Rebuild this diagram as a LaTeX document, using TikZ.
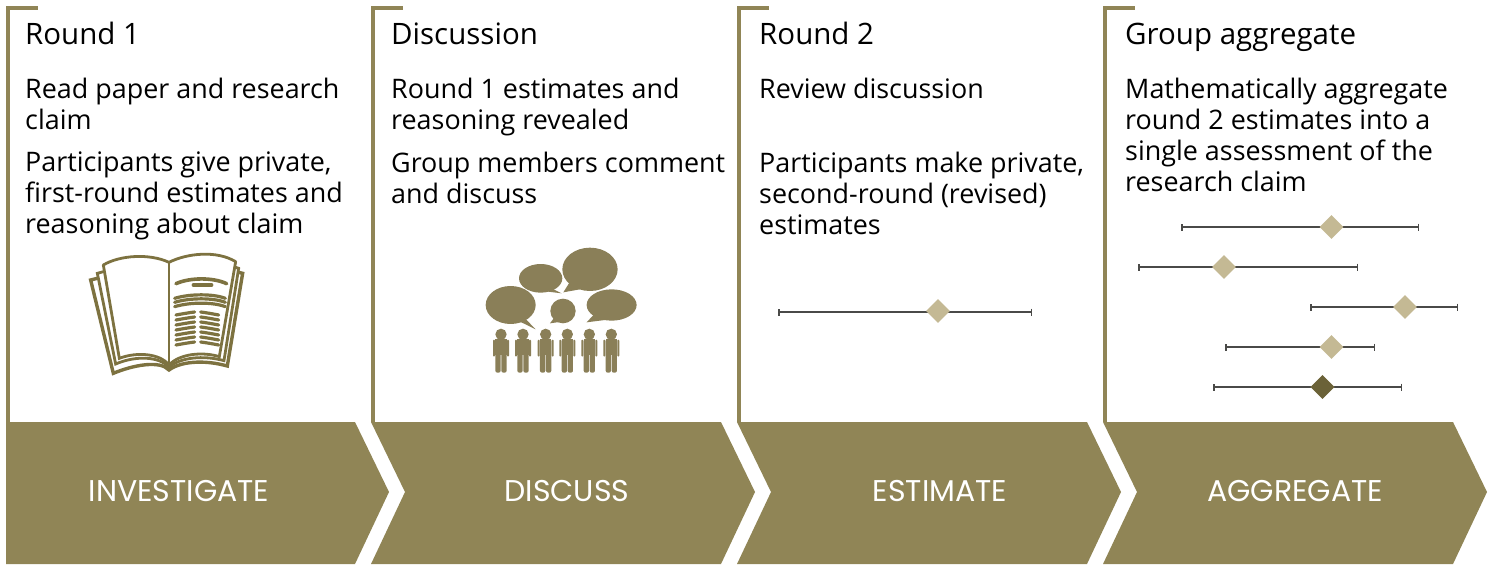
\documentclass[tikz,border=0pt]{standalone}
\usepackage{fontspec}
\setmainfont{Open Sans}
\newfontfamily\bandfont{Poppins}
\usepackage{tikz}
\usetikzlibrary{positioning,shapes.geometric,arrows.meta}
\definecolor{olive}{HTML}{908556}
\definecolor{sand}{HTML}{C4B994}
\definecolor{umber}{HTML}{6B6238}
\definecolor{bar}{HTML}{4A4A48}
\definecolor{crowd}{HTML}{8A7F58}
\definecolor{bookline}{HTML}{7D7240}
\tikzset{
  band/.style={fill=olive,draw=none},
  bandtext/.style={text=white,font=\bandfont\fontsize{30}{30}\selectfont},
  corner/.style={draw=olive,line width=3.2pt},
  head/.style={anchor=base west,inner sep=0pt,font=\fontsize{29.5}{31}\selectfont},
  body/.style={anchor=north west,inner sep=0pt,align=left,font=\fontsize{26.9}{31}\selectfont},
  estimate/.style={draw=bar,line width=1.8pt,{Bar[width=7pt,line width=1.5pt]}-{Bar[width=7pt,line width=1.5pt]}},
  gem/.style={diamond,fill=sand,minimum width=24pt,minimum height=24pt,inner sep=0pt},
  ink/.style={draw=bookline,line width=2.8pt,line cap=round},
  talk/.style={fill=crowd,draw=none}
}
\newcommand{\Person}[1]{%
  \fill[talk] (#1,283) circle (17);
  \fill[talk,rounded corners=2pt] (#1-17,297) rectangle (#1-1,398);
  \fill[talk,rounded corners=2pt] (#1+1,297) rectangle (#1+17,398);
  \fill[talk,rounded corners=1pt] (#1-24,299) rectangle (#1-18,350);
  \fill[talk,rounded corners=1pt] (#1+18,299) rectangle (#1+24,350);
  \fill[talk] (#1-17,297) rectangle (#1+17,345);
}
\begin{document}
\begin{tikzpicture}[x=1pt,y=-1pt]
\useasboundingbox (0,0) rectangle (1491,568);
% bands
\fill[band] (6,422) -- (355,422) -- (389,492) -- (355,564) -- (6,564) -- cycle;
\foreach \xa/\name in {371/two,737/three,1103/four}{
  \fill[band] (\xa,422) -- ++(350,0) -- ++(34,70) -- ++(-34,72) -- ++(-350,0) -- ++(34,-72) -- cycle;
}
\node[bandtext] (investigate) at (179,491) {INVESTIGATE};
\node[bandtext] (discuss) at (567,491) {DISCUSS};
\node[bandtext] (estimate) at (940,491) {ESTIMATE};
\node[bandtext] (aggregate) at (1295,491) {AGGREGATE};
% corners
\foreach \xa in {8,373,739,1105}{
  \draw[corner] (\xa,422) -- (\xa,8) -- ++(30,0);
}
% texts
\node[head] (round1) at (25,44) {Round 1};
\node[body] (read) at (25,78) {Read paper and research\\claim};
\node[body] (private1) at (25,152) {Participants give private,\\first-round estimates and\\reasoning about claim};
\node[head] (discussion) at (391,44) {Discussion};
\node[body] (revealed) at (391,78) {Round 1 estimates and\\reasoning revealed};
\node[body] (comment) at (391,152) {Group members comment\\and discuss};
\node[head] (round2) at (759,44) {Round 2};
\node[body] (review) at (759,78) {Review discussion};
\node[body] (private2) at (759,152) {Participants make private,\\second-round (revised)\\estimates};
\node[head] (group) at (1125,44) {Group aggregate};
\node[body] (math) at (1125,78) {Mathematically aggregate\\round 2 estimates into a\\single assessment of the\\research claim};
% book
\begin{scope}[shift={(70,240)},x=0.3333pt,y=-0.3333pt]
\draw[ink] (100,75) .. controls (150,45) and (240,40) .. (297,67)
  .. controls (350,40) and (440,30) .. (497,65);
\draw[ink] (297,67) -- (297,375);
\draw[ink] (100,75) -- (148,355) .. controls (200,335) and (270,340) .. (297,375)
  .. controls (330,340) and (400,335) .. (448,350) -- (497,65);
\draw[ink] (100,95) -- (82,100) -- (137,372) .. controls (200,345) and (270,350) .. (297,382)
  .. controls (330,352) and (400,345) .. (462,362) -- (506,85) -- (497,82);
\draw[ink,line width=3.4pt] (82,115) -- (62,120) -- (130,400) .. controls (190,375) and (270,360) .. (297,390)
  .. controls (330,365) and (400,358) .. (472,378) -- (518,100) -- (506,97);
\draw[ink,line width=3.6pt] (318,131) .. controls (360,112) and (430,112) .. (470,131);
\draw[ink,line width=3.4pt] (370,135) -- (425,135);
\foreach \ya in {175,187,200}{
  \draw[ink,line width=3.2pt] (314,\ya) .. controls (360,\ya-14) and (430,\ya-14) .. (466,\ya);
}
\foreach \ya in {222,237,252,267,282,297,312}{
  \draw[ink,line width=3.2pt] (318,\ya+3) .. controls (335,\ya) and (350,\ya-3) .. (374,\ya-6);
  \draw[ink,line width=3.2pt] (392,\ya-6) .. controls (415,\ya-3) and (430,\ya) .. (446,\ya+3);
}
\end{scope}
% speech
\begin{scope}[shift={(470,240)},x=0.3333pt,y=-0.3333pt]
\fill[talk] (122,195) ellipse [x radius=75,y radius=57];
\fill[talk] (165,235) -- (197,268) -- (150,245) -- cycle;
\fill[talk] (212,115) ellipse [x radius=65,y radius=43];
\fill[talk] (245,145) -- (275,160) -- (235,155) -- cycle;
\fill[talk] (360,88) ellipse [x radius=83,y radius=65];
\fill[talk] (300,125) -- (280,157) -- (330,148) -- cycle;
\fill[talk] (425,195) ellipse [x radius=75,y radius=47];
\fill[talk] (375,220) -- (350,247) -- (405,240) -- cycle;
\fill[talk] (279,213) ellipse [x radius=38,y radius=37];
\fill[talk] (255,230) -- (240,250) -- (275,245) -- cycle;
\foreach \xa in {93,159,227,292,358,424}{
  \Person{\xa}
}
\end{scope}
% estimates
\coordinate (a0) at (778,312);
\coordinate (a1) at (1032,312);
\draw[estimate] (a0) -- (a1);
\node[gem] (single) at (938,311) {};
\foreach \la/\lb/\mid/\ya/\name in {1181/1419/1331.5/227/b,1138/1358/1224/267/c,1310/1458/1405/307/d,1225/1375/1331.5/347/e,1213/1402/1322.5/387/f}{
  \coordinate (\name0) at (\la,\ya);
  \coordinate (\name1) at (\lb,\ya);
  \draw[estimate] (\name0) -- (\name1);
  \node[gem] (\name) at (\mid,\ya) {};
}
\node[gem,fill=umber] (pooled) at (1322.5,387) {};
\end{tikzpicture}
\end{document}
